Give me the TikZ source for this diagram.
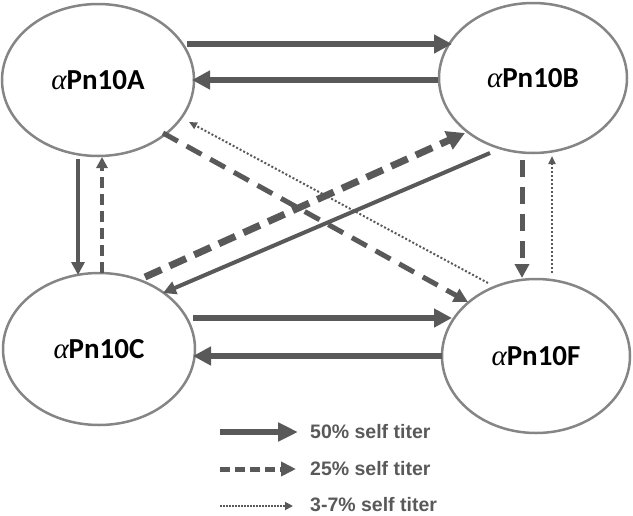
\documentclass[tikz,border=0pt]{standalone}
\usepackage{fontspec}
\setmainfont{Carlito}
\newfontfamily\legendfont{Liberation Sans}
\newfontfamily\greekfont{Liberation Serif}
\newcommand{\alp}{{\greekfont\mdseries\itshape α}}
\usetikzlibrary{arrows.meta,shapes.geometric}
\definecolor{arr}{HTML}{595959}
\definecolor{ring}{HTML}{858585}
\begin{document}
\begin{tikzpicture}[x=1pt,y=-1pt,
  nd/.style={ellipse, draw=ring, line width=2.5pt, inner sep=0pt,
    font=\fontsize{29}{31}\selectfont\bfseries, text=black},
  bigsolid/.style={draw=arr, line width=6pt, -{Triangle[length=18pt,width=18pt]}},
  medsolid/.style={draw=arr, line width=4pt, -{Triangle[length=13pt,width=13pt]}},
  bigdash/.style={draw=arr, line width=7pt, dash pattern=on 18pt off 9pt, -{Triangle[length=18pt,width=19pt]}},
  meddash/.style={draw=arr, line width=5pt, dash pattern=on 17pt off 10pt, -{Triangle[length=14pt,width=14pt]}},
  smalldash/.style={draw=arr, line width=4pt, dash pattern=on 11pt off 6pt, -{Triangle[length=11pt,width=11pt]}},
  dotline/.style={draw=arr, line width=2pt, dash pattern=on 2pt off 2pt, -{Triangle[length=8pt,width=7pt]}},
  legtext/.style={anchor=west, text=arr, font=\legendfont\fontsize{19.5}{21}\selectfont\bfseries, inner sep=0pt}
]
\useasboundingbox (0,0) rectangle (633,515);

% nodes
\node[nd, minimum width=192pt, minimum height=152pt] (A) at (98,80) {\alp Pn10A};
\node[nd, minimum width=188pt, minimum height=150pt] (B) at (533,78) {\alp Pn10B};
\node[nd, minimum width=192pt, minimum height=152pt] (C) at (99,349) {\alp Pn10C};
\node[nd, minimum width=188pt, minimum height=154pt] (F) at (536,356) {\alp Pn10F};

% horizontal
\draw[bigsolid] ([shift={(89,-36)}]A.center) -- ([shift={(-81,-34)}]B.center);
\draw[bigsolid] ([shift={(-95,2)}]B.center) -- ([shift={(94,0)}]A.center);
\draw[bigsolid] ([shift={(94,-31)}]C.center) -- ([shift={(-84,-38)}]F.center);
\draw[bigsolid] ([shift={(-94,0)}]F.center) -- ([shift={(94,7)}]C.center);

% vertical left
\draw[medsolid] ([shift={(-20,79)}]A.center) -- ([shift={(-21,-74)}]C.center);
\draw[smalldash] ([shift={(3,-76)}]C.center) -- ([shift={(4,77)}]A.center);

% vertical right
\draw[meddash] ([shift={(-11,82)}]B.center) -- ([shift={(-14,-78)}]F.center);
\draw[dotline] ([shift={(16,-83)}]F.center) -- ([shift={(19,78)}]B.center);

% diagonals
\draw[meddash] ([shift={(65,53)}]A.center) -- ([shift={(-68,-54)}]F.center);
\draw[dotline] ([shift={(-48,-73)}]F.center) -- ([shift={(91,42)}]A.center);
\draw[bigdash] ([shift={(46,-72)}]C.center) -- ([shift={(-68,55)}]B.center);
\draw[medsolid] ([shift={(-43,75)}]B.center) -- ([shift={(64,-56)}]C.center);

% legend
\coordinate (l1s) at (220,432); \coordinate (l1e) at (298,432);
\coordinate (l2s) at (220,469); \coordinate (l2e) at (296,469);
\coordinate (l3s) at (220,506); \coordinate (l3e) at (293,506);
\draw[draw=arr, line width=6pt, -{Triangle[length=20pt,width=18pt]}] (l1s) -- (l1e);
\draw[draw=arr, line width=5pt, dash pattern=on 10pt off 5pt, -{Triangle[length=15pt,width=14pt]}] (l2s) -- (l2e);
\draw[draw=arr, line width=1.8pt, dash pattern=on 1.6pt off 1.4pt, -{Triangle[length=8pt,width=8pt]}] (l3s) -- (l3e);
\node[legtext] (t1) at (310,432) {50\% self titer};
\node[legtext] (t2) at (310,469) {25\% self titer};
\node[legtext] (t3) at (310,505) {3-7\% self titer};
\end{tikzpicture}
\end{document}
